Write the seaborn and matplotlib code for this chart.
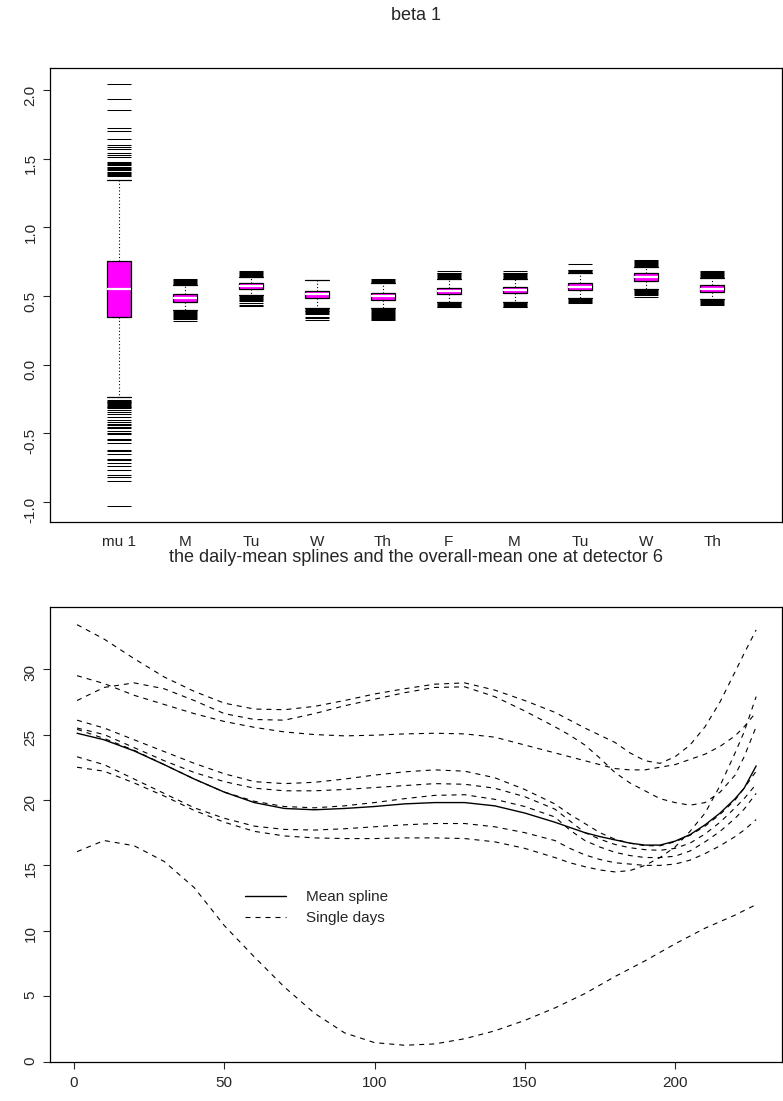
import numpy as np
import pandas as pd
import seaborn as sns
import matplotlib.pyplot as plt
from matplotlib.lines import Line2D

# ---- top panel: beta 1 boxes (summary stats) ----
box_labels = ['mu 1', 'M', 'Tu', 'W', 'Th', 'F', 'M', 'Tu', 'W', 'Th']
box_q1 = [0.345, 0.454, 0.549, 0.482, 0.471, 0.517, 0.520, 0.544, 0.609, 0.529]
box_med = [0.551, 0.483, 0.576, 0.512, 0.500, 0.539, 0.541, 0.568, 0.636, 0.553]
box_q3 = [0.755, 0.512, 0.598, 0.536, 0.524, 0.560, 0.566, 0.592, 0.665, 0.578]
whis_lo = [-0.233, 0.398, 0.505, 0.415, 0.410, 0.458, 0.458, 0.483, 0.549, 0.478]
whis_hi = [1.345, 0.580, 0.641, 0.614, 0.592, 0.622, 0.624, 0.665, 0.713, 0.633]

upper_out = [
    [2.041, 1.934, 1.852, 1.723, 1.699, 1.641, 1.600, 1.583, 1.568, 1.539, 1.524,
     1.510, 1.478, 1.469, 1.460, 1.451, 1.442, 1.433, 1.424, 1.415, 1.406, 1.397,
     1.388, 1.379, 1.370],
    [0.587, 0.594, 0.601, 0.608, 0.615, 0.622],
    [0.648, 0.655, 0.662, 0.669, 0.676, 0.682],
    [],
    [0.599, 0.606, 0.613, 0.620],
    [0.629, 0.636, 0.643, 0.650, 0.657, 0.664, 0.670, 0.682],
    [0.631, 0.638, 0.645, 0.652, 0.659, 0.666, 0.670, 0.680],
    [0.672, 0.679, 0.686, 0.689, 0.731],
    [0.720, 0.727, 0.734, 0.741, 0.748, 0.755, 0.762],
    [0.640, 0.647, 0.654, 0.661, 0.668, 0.675, 0.684],
]
lower_out = [
    [-0.257, -0.263, -0.269, -0.275, -0.281, -0.287, -0.293, -0.299, -0.305,
     -0.311, -0.318, -0.330, -0.345, -0.361, -0.379, -0.403, -0.418, -0.430,
     -0.442, -0.452, -0.463, -0.481, -0.495, -0.507, -0.539, -0.551, -0.573, -0.619,
     -0.631, -0.651, -0.685, -0.696, -0.714, -0.736, -0.767, -0.806, -0.816, -0.845,
     -1.027],
    [0.391, 0.384, 0.377, 0.370, 0.363, 0.356, 0.349, 0.342, 0.330, 0.318],
    [0.498, 0.491, 0.484, 0.477, 0.470, 0.463, 0.447, 0.437, 0.427],
    [0.408, 0.401, 0.394, 0.387, 0.380, 0.373, 0.366, 0.350, 0.338, 0.325],
    [0.403, 0.396, 0.389, 0.382, 0.375, 0.368, 0.361, 0.354, 0.347, 0.340, 0.333, 0.326],
    [0.451, 0.444, 0.437, 0.430, 0.423, 0.418],
    [0.451, 0.444, 0.437, 0.430, 0.423, 0.418],
    [0.476, 0.469, 0.462, 0.455, 0.451],
    [0.542, 0.535, 0.528, 0.521, 0.514, 0.507, 0.490],
    [0.471, 0.464, 0.457, 0.450, 0.443, 0.436],
]

# ---- bottom panel: splines at detector 6 ----
xs = [1, 10, 20, 30, 40, 50, 60, 70, 80, 90, 100, 110, 120, 130, 140, 150,
      160, 165, 170, 175, 180, 185, 190, 195, 200, 205, 210, 215, 220, 223, 227]
mean_spline = [25.1, 24.6, 23.75, 22.7, 21.6, 20.6, 19.8, 19.35, 19.25, 19.35, 19.5,
               19.7, 19.8, 19.8, 19.55, 19.0, 18.3, 17.9, 17.5, 17.2, 16.95, 16.7,
               16.55, 16.55, 16.85, 17.35, 18.1, 19.0, 20.1, 20.9, 22.6]
day_1 = [33.4, 32.3, 30.8, 29.4, 28.3, 27.4, 26.95, 26.9, 27.15, 27.6, 28.1, 28.5,
         28.85, 28.95, 28.4, 27.6, 26.7, 26.1, 25.5, 24.95, 24.4, 23.6, 23.0, 22.8,
         23.3, 24.2, 25.6, 27.5, 29.8, 31.2, 33.0]
day_2 = [27.6, 28.6, 28.95, 28.5, 27.6, 26.6, 26.15, 26.1, 26.6, 27.2, 27.7, 28.2,
         28.6, 28.65, 27.9, 26.8, 25.6, 24.95, 24.2, 23.2, 22.1, 21.3, 20.7, 20.1,
         19.8, 19.6, 19.8, 20.6, 21.9, 23.3, 25.6]
day_3 = [29.5, 28.9, 28.0, 27.3, 26.6, 26.0, 25.55, 25.2, 25.0, 24.9, 24.95, 25.05,
         25.1, 25.05, 24.8, 24.2, 23.6, 23.3, 23.0, 22.7, 22.4, 22.3, 22.3, 22.5,
         22.7, 23.1, 23.5, 24.1, 24.9, 25.6, 26.7]
day_4 = [26.1, 25.5, 24.6, 23.7, 22.8, 22.0, 21.4, 21.25, 21.35, 21.6, 21.9, 22.15,
         22.3, 22.2, 21.7, 20.8, 19.7, 18.9, 18.2, 17.5, 17.0, 16.7, 16.5, 16.5,
         16.8, 17.3, 18.0, 18.9, 20.0, 20.9, 22.2]
day_5 = [25.5, 25.0, 24.0, 23.0, 22.1, 21.4, 20.9, 20.7, 20.7, 20.8, 20.95, 21.1,
         21.25, 21.2, 20.9, 20.25, 19.3, 18.4, 17.5, 17.0, 16.6, 16.35, 16.2, 16.15,
         16.3, 16.7, 17.4, 18.3, 19.4, 20.1, 21.2]
day_6 = [25.4, 24.7, 23.8, 22.7, 21.6, 20.6, 19.9, 19.5, 19.4, 19.55, 19.8, 20.1,
         20.35, 20.4, 20.05, 19.5, 18.7, 17.7, 16.9, 16.4, 16.0, 15.75, 15.6, 15.6,
         15.7, 16.1, 16.8, 17.6, 18.6, 19.3, 20.5]
day_7 = [23.3, 22.7, 21.6, 20.5, 19.4, 18.6, 18.0, 17.75, 17.7, 17.8, 17.95, 18.1,
         18.2, 18.2, 17.95, 17.5, 16.9, 16.3, 15.8, 15.45, 15.2, 15.1, 15.0, 15.0,
         15.1, 15.4, 15.9, 16.5, 17.2, 17.7, 18.5]
day_8 = [22.5, 22.2, 21.3, 20.3, 19.2, 18.3, 17.6, 17.25, 17.1, 17.05, 17.05, 17.1,
         17.1, 17.05, 16.8, 16.3, 15.6, 15.2, 14.9, 14.65, 14.5, 14.6, 15.0, 15.6,
         16.4, 17.6, 19.0, 21.1, 23.6, 25.2, 27.9]
day_9 = [16.05, 16.9, 16.5, 15.3, 13.3, 10.4, 8.0, 5.7, 3.7, 2.2, 1.45, 1.25,
         1.35, 1.75, 2.35, 3.15, 4.1, 4.65, 5.2, 5.85, 6.5, 7.1, 7.7, 8.35,
         9.0, 9.6, 10.2, 10.7, 11.2, 11.55, 12.0]
day_splines = [day_1, day_2, day_3, day_4, day_5, day_6, day_7, day_8, day_9]

sns.set_theme(style='white')
plt.rcParams['font.family'] = ['Liberation Sans', 'DejaVu Sans']

W, H = 783, 1101
fig = plt.figure(figsize=(W / 100, H / 100), dpi=100)
ax1 = fig.add_axes([50 / W, 1 - 522 / H, 732 / W, 454 / H])
ax2 = fig.add_axes([50 / W, 1 - 1062 / H, 732 / W, 455 / H])

# boxes
positions = list(range(1, len(box_labels) + 1))
stats = []
for i in range(len(box_labels)):
    stats.append({'med': box_med[i], 'q1': box_q1[i], 'q3': box_q3[i],
                  'whislo': whis_lo[i], 'whishi': whis_hi[i],
                  'fliers': np.array(upper_out[i] + lower_out[i])})
bw = 0.365
ax1.bxp(stats, positions=positions, widths=bw, capwidths=bw, patch_artist=True,
        showfliers=True,
        boxprops=dict(facecolor='#ff00ff', edgecolor='black', linewidth=0.9),
        medianprops=dict(color='white', linewidth=1.6),
        whiskerprops=dict(color='black', linewidth=0.8, linestyle=(0, (1, 2))),
        capprops=dict(color='black', linewidth=0.9),
        flierprops=dict(marker='_', markersize=17.3, markeredgewidth=0.75,
                        markeredgecolor='black', linestyle='none'))
ax1.set_xlim(1 - 1.055, 10 + 1.06)
ax1.set_ylim(-1.146, 2.160)
ax1.set_xticks(positions)
ax1.set_xticklabels(box_labels)
ax1.set_yticks([-1.0, -0.5, 0.0, 0.5, 1.0, 1.5, 2.0])
ax1.set_yticklabels(['-1.0', '-0.5', '0.0', '0.5', '1.0', '1.5', '2.0'])
ax1.tick_params(axis='x', length=0, pad=9, labelsize=11)
ax1.tick_params(axis='y', left=True, direction='out', length=5, width=0.8, pad=4,
                labelsize=11, labelrotation=90)

# splines
dash = (0, (4.5, 4.5))
for d in day_splines:
    sns.lineplot(x=xs, y=d, ax=ax2, color='black', linewidth=0.8, linestyle=dash)
sns.lineplot(x=xs, y=mean_spline, ax=ax2, color='black', linewidth=1.0)
ax2.set_xlim(-8.0, 235.6)
ax2.set_ylim(-0.03, 34.75)
ax2.set_xticks([0, 50, 100, 150, 200])
ax2.set_yticks([0, 5, 10, 15, 20, 25, 30])
ax2.tick_params(axis='x', bottom=True, direction='out', length=5, width=0.8, pad=5,
                labelsize=11)
ax2.tick_params(axis='y', left=True, direction='out', length=5, width=0.8, pad=4,
                labelsize=11, labelrotation=90)
ax2.set_xlabel('')
ax2.set_ylabel('')

handles = [Line2D([], [], color='black', linewidth=1.0),
           Line2D([], [], color='black', linewidth=0.8, linestyle=dash)]
ax2.legend(handles, ['Mean spline', 'Single days'], loc='upper left',
           bbox_to_anchor=(0.266, 0.378), frameon=False, fontsize=11,
           handlelength=2.7, handletextpad=1.3, labelspacing=0.45,
           borderpad=0, borderaxespad=0)

for ax in (ax1, ax2):
    for s in ax.spines.values():
        s.set_color('black')
        s.set_linewidth(0.9)
    ax.grid(False)

fig.text(416 / W, 1 - 15 / H, 'beta 1', ha='center', va='center', fontsize=13)
fig.text(416 / W, 1 - 557 / H,
         'the daily-mean splines and the overall-mean one at detector 6',
         ha='center', va='center', fontsize=13)

fig.savefig('out.png', dpi=100, facecolor='white')
